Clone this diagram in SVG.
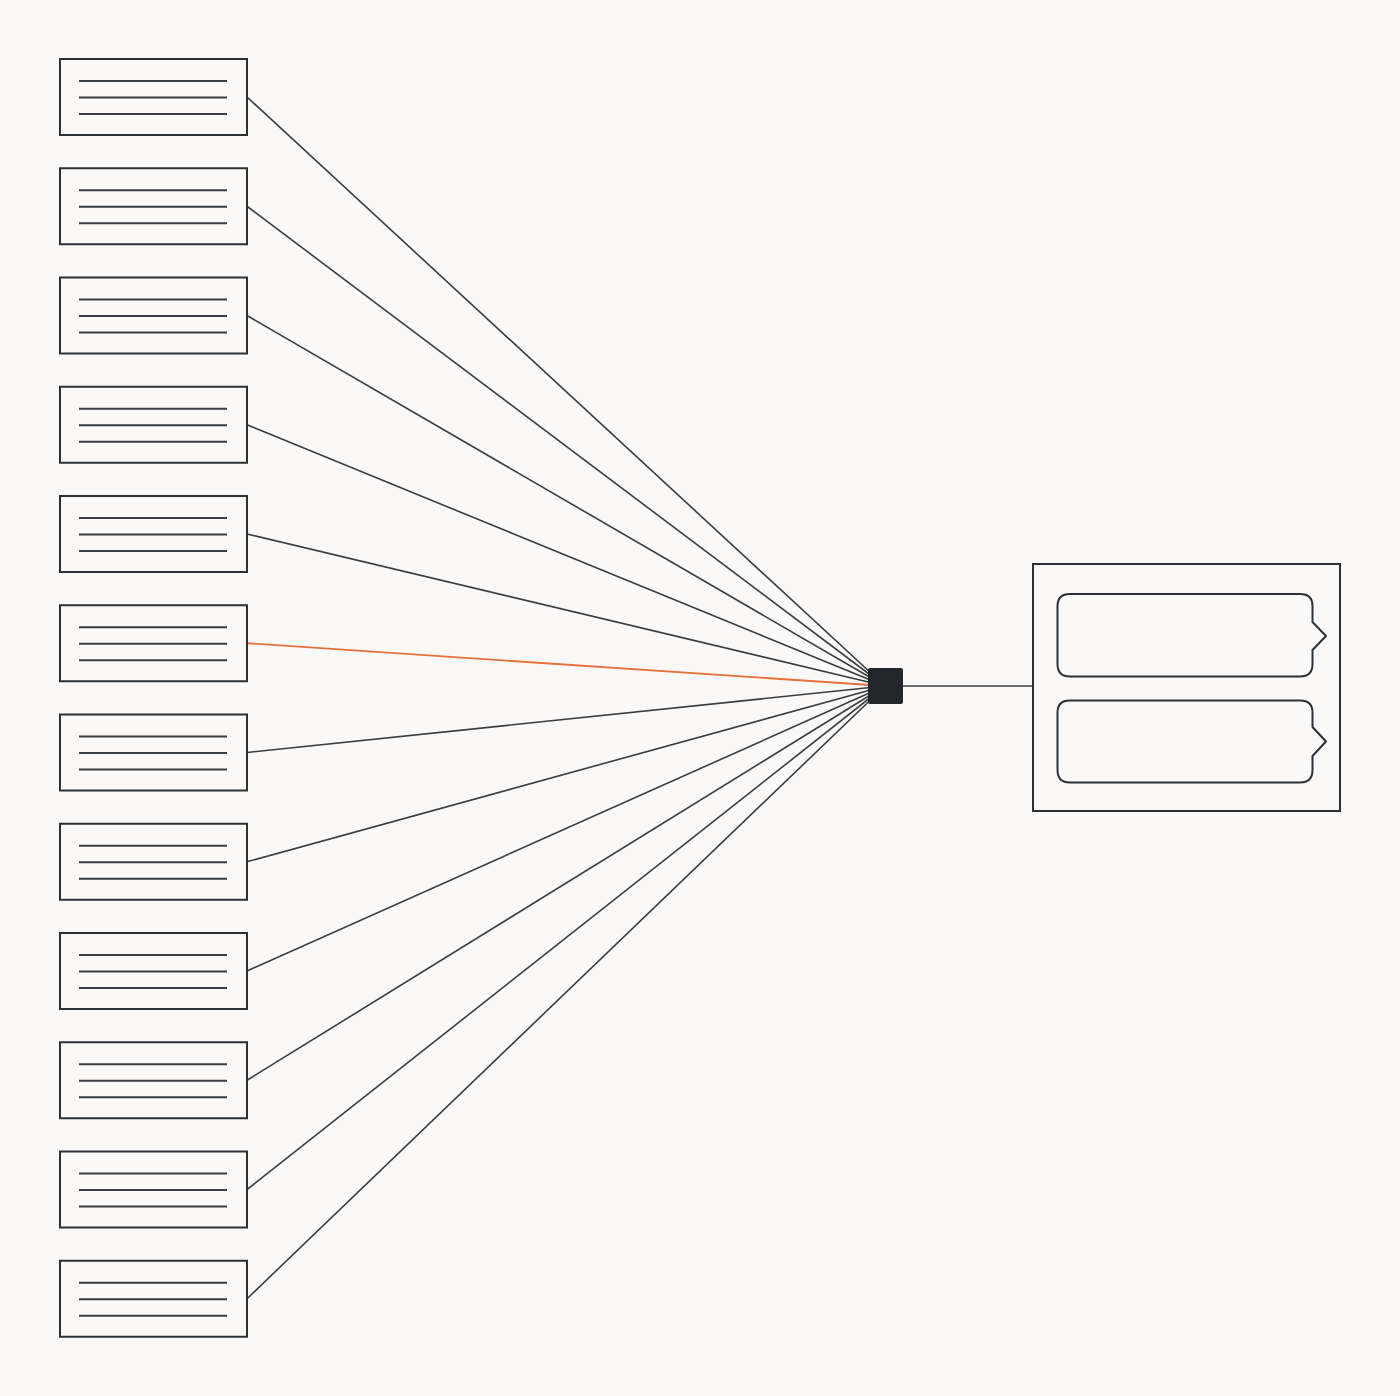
<svg xmlns="http://www.w3.org/2000/svg" width="1400" height="1396" viewBox="0 0 1400 1396">
<defs>
<style>
.box{fill:#faf9f7;stroke:#2d3034;stroke-width:2}
.tl{stroke:#3a3d41;stroke-width:2.2}
.conn{stroke:#3a3d41;stroke-width:1.6;fill:none}
.hl{stroke:#e8703a;stroke-width:1.8;fill:none}
.inner{fill:#faf9f7;stroke:#2d3034;stroke-width:2;stroke-linejoin:round}
</style>
<g id="doc">
<rect class="box" x="0" y="0" width="187" height="76"/>
<line class="tl" x1="19" y1="22" x2="167" y2="22"/>
<line class="tl" x1="19" y1="38.5" x2="167" y2="38.5"/>
<line class="tl" x1="19" y1="55" x2="167" y2="55"/>
</g>
</defs>
<rect width="1400" height="1396" fill="#faf9f7"/>
<g id="connectors">
<line class="conn" x1="247" y1="97" x2="885" y2="686"/>
<line class="conn" x1="247" y1="206.25" x2="885" y2="686"/>
<line class="conn" x1="247" y1="315.5" x2="885" y2="686"/>
<line class="conn" x1="247" y1="424.75" x2="885" y2="686"/>
<line class="conn" x1="247" y1="534" x2="885" y2="686"/>
<line class="hl" x1="247" y1="643.25" x2="885" y2="686"/>
<line class="conn" x1="247" y1="752.5" x2="885" y2="686"/>
<line class="conn" x1="247" y1="861.75" x2="885" y2="686"/>
<line class="conn" x1="247" y1="971" x2="885" y2="686"/>
<line class="conn" x1="247" y1="1080.25" x2="885" y2="686"/>
<line class="conn" x1="247" y1="1189.5" x2="885" y2="686"/>
<line class="conn" x1="247" y1="1298.75" x2="885" y2="686"/>
<line class="conn" x1="903" y1="686" x2="1033" y2="686"/>
</g>
<g id="doc1"><use href="#doc" x="60" y="59"/></g>
<g id="doc2"><use href="#doc" x="60" y="168.25"/></g>
<g id="doc3"><use href="#doc" x="60" y="277.5"/></g>
<g id="doc4"><use href="#doc" x="60" y="386.75"/></g>
<g id="doc5"><use href="#doc" x="60" y="496"/></g>
<g id="doc6"><use href="#doc" x="60" y="605.25"/></g>
<g id="doc7"><use href="#doc" x="60" y="714.5"/></g>
<g id="doc8"><use href="#doc" x="60" y="823.75"/></g>
<g id="doc9"><use href="#doc" x="60" y="933"/></g>
<g id="doc10"><use href="#doc" x="60" y="1042.25"/></g>
<g id="doc11"><use href="#doc" x="60" y="1151.5"/></g>
<g id="doc12"><use href="#doc" x="60" y="1260.75"/></g>
<g id="hub"><rect x="868" y="668" width="35" height="36" rx="2" fill="#23272c"/></g>
<g id="panel">
<rect class="box" x="1033" y="564" width="307" height="247"/>
<path class="inner" d="M1070 594 H1300 Q1312.5 594 1312.5 606 V622 L1326 636 L1312.5 650 V664 Q1312.5 676.5 1300 676.5 H1070 Q1057.5 676.5 1057.5 664 V606 Q1057.5 594 1070 594 Z"/>
<path class="inner" d="M1070 700.5 H1300 Q1312.5 700.5 1312.5 712.5 V727 L1326 741.5 L1312.5 756 V770 Q1312.5 782.5 1300 782.5 H1070 Q1057.5 782.5 1057.5 770 V712.5 Q1057.5 700.5 1070 700.5 Z"/>
</g>
</svg>
